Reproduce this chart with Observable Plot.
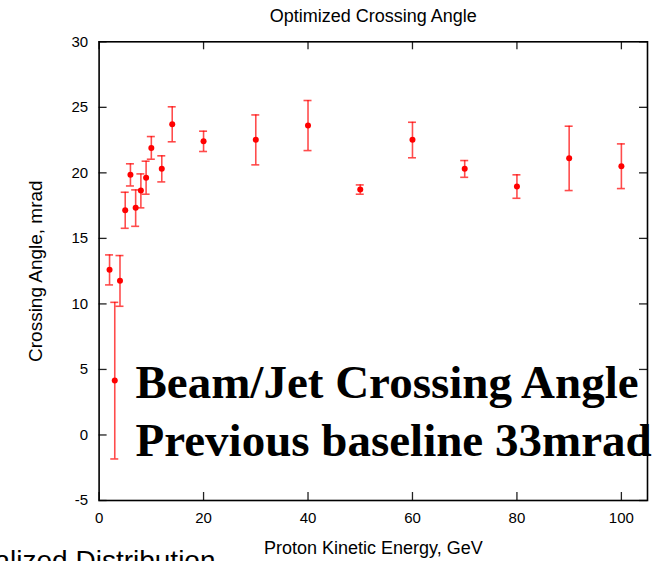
<!DOCTYPE html>
<html><head><meta charset="utf-8">
<script src="https://cdn.jsdelivr.net/npm/d3@7"></script>
<script src="https://cdn.jsdelivr.net/npm/@observablehq/plot@0.6"></script>
<style>body{margin:0;background:#fff} #chart svg{display:block}</style>
</head><body><div id="chart"></div>
<script>
const energy = [2, 3, 4, 5, 6, 7, 8, 9, 10, 12, 14, 20, 30, 40, 50, 60, 70, 80, 90, 100];
const angle  = [12.6, 4.15, 11.76, 17.14, 19.85, 17.33, 18.65, 19.62, 21.9, 20.31, 23.71, 22.41, 22.52, 23.61, 18.73, 22.52, 20.31, 18.95, 21.11, 20.5];
const errLow = [11.45, -1.83, 9.82, 15.77, 19.0, 15.92, 17.33, 18.37, 21.04, 19.31, 22.37, 21.63, 20.61, 21.7, 18.37, 21.15, 19.66, 18.06, 18.65, 18.8];
const errHigh= [13.74, 10.12, 13.69, 18.52, 20.69, 18.7, 19.92, 20.89, 22.77, 21.3, 25.04, 23.18, 24.42, 25.52, 19.08, 23.86, 20.94, 19.85, 23.56, 22.21];
const xTicks = [0, 20, 40, 60, 80, 100];
const yTicks = [-5, 0, 5, 10, 15, 20, 25, 30];
const title = "Optimized Crossing Angle";
const xLabel = "Proton Kinetic Energy, GeV";
const yLabel = "Crossing Angle, mrad";
const note1 = "Beam/Jet Crossing Angle";
const note2 = "Previous baseline 33mrad";
const cutText = "Normalized Distribution";

const data = energy.map((x, i) => ({x, y: angle[i], lo: errLow[i], hi: errHigh[i]}));

const W = 667, H = 561, mL = 98.6, mR = 20, mT = 41.3, mB = 61;
const fw = W - mL - mR, fh = H - mT - mB, tk = 8;
const sans = "'Liberation Sans', Arial, sans-serif";
const serif = "'Liberation Serif', 'Times New Roman', serif";
const red = "#ff0000";

const chart = Plot.plot({
  width: W, height: H,
  marginLeft: mL, marginRight: mR, marginTop: mT, marginBottom: mB,
  style: {fontFamily: sans, background: "#fff", overflow: "visible"},
  x: {domain: [0, 105]},
  y: {domain: [-5, 30]},
  marks: [
    Plot.ruleX(xTicks, {x: d => d, insetTop: fh - tk, stroke: "#222", strokeWidth: 1.3}),
    Plot.ruleX(xTicks, {x: d => d, insetBottom: fh - tk, stroke: "#222", strokeWidth: 1.3}),
    Plot.ruleY(yTicks, {y: d => d, insetRight: fw - tk, stroke: "#222", strokeWidth: 1.3}),
    Plot.ruleY(yTicks, {y: d => d, insetLeft: fw - tk, stroke: "#222", strokeWidth: 1.3}),
    Plot.frame({stroke: "#000", strokeWidth: 1.6}),
    Plot.axisX({ticks: xTicks, tickSize: 0, tickPadding: 12, fontSize: 15, label: null, tickFormat: d => String(d)}),
    Plot.axisY({ticks: yTicks, tickSize: 0, tickPadding: 11, fontSize: 15, label: null, tickFormat: d => String(d)}),
    Plot.ruleX(data, {x: "x", y1: "lo", y2: "hi", stroke: red, strokeOpacity: 0.7, strokeWidth: 1.6}),
    Plot.ruleY(data, {x1: "x", x2: "x", y: "lo", insetLeft: -4, insetRight: -4, stroke: red, strokeOpacity: 0.7, strokeWidth: 1.6}),
    Plot.ruleY(data, {x1: "x", x2: "x", y: "hi", insetLeft: -4, insetRight: -4, stroke: red, strokeOpacity: 0.7, strokeWidth: 1.6}),
    Plot.dot(data, {x: "x", y: "y", r: 3, fill: red, stroke: "none"}),
    Plot.text([title], {text: d => d, frameAnchor: "top", lineAnchor: "middle", dy: -25.3, fontSize: 18, fill: "#000"}),
    Plot.text([xLabel], {text: d => d, frameAnchor: "bottom", lineAnchor: "middle", dy: 48, fontSize: 18, fill: "#000"}),
    Plot.text([yLabel], {text: d => d, frameAnchor: "left", textAnchor: "middle", lineAnchor: "middle", dx: -63.6, rotate: -90, fontSize: 19, fill: "#000"}),
    Plot.text([note1], {text: d => d, frameAnchor: "top-left", textAnchor: "start", lineAnchor: "middle", dx: 36.4, dy: 340.7, fontSize: 47, fontWeight: "bold", fontFamily: serif, fill: "#000"}),
    Plot.text([note2], {text: d => d, frameAnchor: "top-left", textAnchor: "start", lineAnchor: "middle", dx: 36.4, dy: 398.7, fontSize: 47, fontWeight: "bold", fontFamily: serif, fill: "#000"}),
    Plot.text([cutText], {text: d => d, frameAnchor: "bottom-left", textAnchor: "end", lineAnchor: "middle", dx: 116.4, dy: 61, fontSize: 28, fill: "#000"})
  ]
});
document.getElementById("chart").appendChild(chart);
</script>
</body></html>
